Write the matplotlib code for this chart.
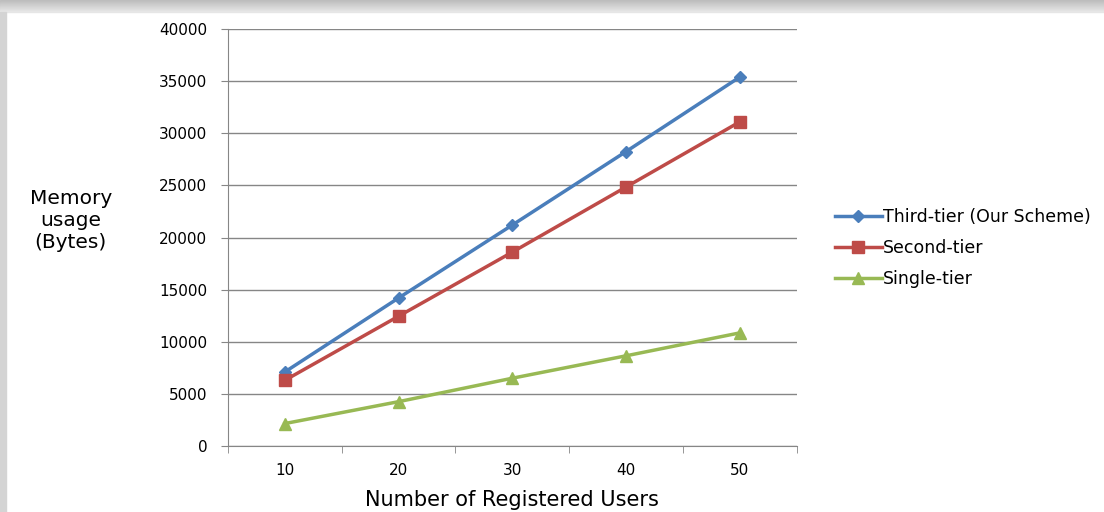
import numpy as np
import matplotlib.pyplot as plt
from matplotlib.patches import Rectangle

users = ["10", "20", "30", "40", "50"]
third_tier = [7100, 14200, 21200, 28250, 35400]
second_tier = [6300, 12450, 18600, 24850, 31100]
single_tier = [2150, 4250, 6500, 8650, 10850]
y_ticks = [0, 5000, 10000, 15000, 20000, 25000, 30000, 35000, 40000]

fig = plt.figure(figsize=(11.04, 5.12), dpi=100)

# gray frame shading at the top and left edge
band = 12 / 512 / 12
for i in range(12):
    shade = 0.74 + 0.16 * i / 11
    fig.patches.append(Rectangle((0, 1 - (i + 1) * band), 1, band,
                                 transform=fig.transFigure,
                                 color=(shade, shade, shade), zorder=-1))
fig.patches.append(Rectangle((0, 0), 0.005, 0.977, transform=fig.transFigure,
                             color="#d4d4d4", zorder=-1))

ax = fig.add_axes([0.2065, 0.129, 0.515, 0.814])
x = np.arange(1, len(users) + 1)

ax.plot(x, third_tier, color="#4A7EBB", lw=2.5, marker="D", ms=6,
        label="Third-tier (Our Scheme)")
ax.plot(x, second_tier, color="#BE4B48", lw=2.5, marker="s", ms=9,
        label="Second-tier")
ax.plot(x, single_tier, color="#98B954", lw=2.5, marker="^", ms=8,
        label="Single-tier")

ax.set_xlim(0.5, len(users) + 0.5)
ax.set_ylim(0, 40000)
ax.set_yticks(y_ticks)
ax.set_yticklabels([str(v) for v in y_ticks], fontfamily="DejaVu Sans",
                   fontsize=11)
ax.set_xticks(x)
ax.set_xticklabels(users, fontfamily="DejaVu Sans", fontsize=11)
ax.set_xticks(np.arange(0.5, len(users) + 1), minor=True)
ax.tick_params(axis="x", which="major", length=0, pad=12)
ax.tick_params(axis="x", which="minor", length=5, color="#868686")
ax.tick_params(axis="y", length=5, color="#868686", pad=10)

ax.grid(axis="y", color="#868686", lw=1)
ax.set_axisbelow(True)
for side in ["top", "right"]:
    ax.spines[side].set_visible(False)
for side in ["left", "bottom"]:
    ax.spines[side].set_color("#868686")

ax.set_xlabel("Number of Registered Users", fontfamily="DejaVu Sans",
              fontsize=15, labelpad=9)
fig.text(0.064, 0.57, "Memory\nusage\n(Bytes)", fontfamily="DejaVu Sans",
         fontsize=14.5, ha="center", va="center", linespacing=1.2)

ax.legend(loc="center left", bbox_to_anchor=(1.055, 0.475), frameon=False,
          prop={"family": "DejaVu Sans", "size": 12.5}, handlelength=2.7,
          handletextpad=0.1, labelspacing=0.75, borderaxespad=0)

fig.savefig("out.png", dpi=100)
